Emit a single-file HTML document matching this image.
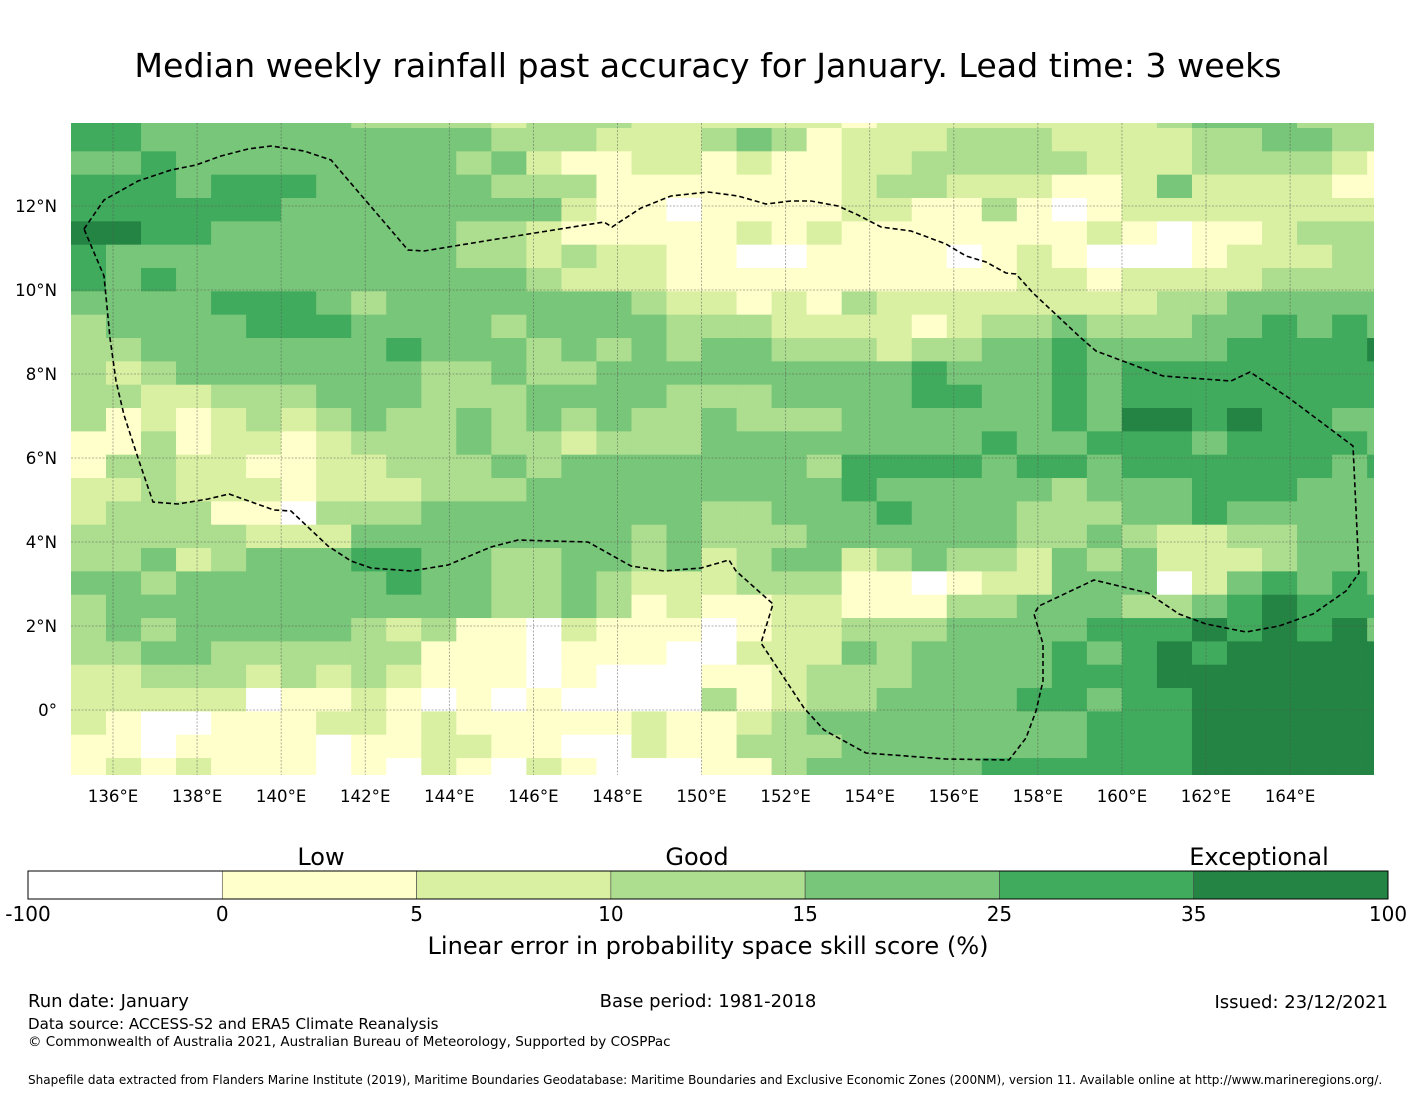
<!DOCTYPE html>
<html><head><meta charset="utf-8">
<style>
body{margin:0;background:#fff;width:1416px;height:1095px;overflow:hidden;font-family:"Liberation Sans","DejaVu Sans",sans-serif;}
svg text{font-family:"DejaVu Sans","Liberation Sans",sans-serif;}
</style></head>
<body>
<svg id="chart" width="1416" height="1095" viewBox="0 0 1416 1095" xmlns="http://www.w3.org/2000/svg">
<text x="708" y="77" font-size="33.2" text-anchor="middle">Median weekly rainfall past accuracy for January. Lead time: 3 weeks</text>
<defs><clipPath id="mapclip"><rect x="71" y="123" width="1303" height="652"/></clipPath></defs>
<g id="map" clip-path="url(#mapclip)"></g>
<g id="grid" clip-path="url(#mapclip)"></g>
<path id="eez" fill="none" stroke="#000" stroke-width="1.6" stroke-dasharray="5,3" clip-path="url(#mapclip)"/>
<g id="xticks"></g>
<g id="yticks"></g>
<g id="cbar"></g>
<text x="321" y="865" font-size="24" text-anchor="middle">Low</text>
<text x="697" y="865" font-size="24" text-anchor="middle">Good</text>
<text x="1259" y="865" font-size="24" text-anchor="middle">Exceptional</text>
<text x="708" y="954" font-size="24.1" text-anchor="middle">Linear error in probability space skill score (%)</text>
<text x="28" y="1007" font-size="18">Run date: January</text>
<text x="708" y="1007" font-size="18" text-anchor="middle">Base period: 1981-2018</text>
<text x="1388" y="1008" font-size="18" text-anchor="end">Issued: 23/12/2021</text>
<text x="28" y="1029" font-size="15.1">Data source: ACCESS-S2 and ERA5 Climate Reanalysis</text>
<text x="28" y="1046" font-size="13.5">© Commonwealth of Australia 2021, Australian Bureau of Meteorology, Supported by COSPPac</text>
<text x="28" y="1084" font-size="12.05">Shapefile data extracted from Flanders Marine Institute (2019), Maritime Boundaries Geodatabase: Maritime Boundaries and Exclusive Economic Zones (200NM), version 11. Available online at http://www.marineregions.org/.</text>
</svg>
<script>
// category per cell (0..6), rows north->south, cols west->east
const gridRows = [
"55444444333323332222221222222223444333",
"55444444444433322234312223332222334433",
"44544444444342112212112233333222333321",
"55545554444433311111112332221124222211",
"55555544444444211011112211310122222222",
"66554444444332111112121111111210112333",
"54444444444332322110011110121000122233",
"54544444444443222111111111122122223333",
"44445554344444443221213222222223344444",
"34444555444434444333222212334333445454",
"33444444454443434344333233445444455556",
"32344444443343344444444454445455555555",
"33223334443334444333444455445455555555",
"31212323433434343343334444445466565544",
"11312212333433233344444444544555455554",
"13322112233343444444435555455455555545",
"22322212223334444444445444443444555444",
"23331103334444444433444544433344544444",
"33333222444444443433344444433432233444",
"33423444554433443423442343324342223444",
"44344444454433432223331101224440245454",
"34444444444433431211221113344433456555",
"34344444323110211101223334444555656564",
"33443333331110111002224344445456566666",
"22333232321110100011233344445556666666",
"22222011210101000031233444455455666666",
"21001112212111112112344444444555666666",
"11011110112211002113334444444555666666",
"12121110102102100011344444555555666666"
];
const categoryColors = ["#ffffff","#ffffcc","#d9f0a3","#addd8e","#78c679","#41ab5d","#238443"];
const cbarTicks = ["-100","0","5","10","15","25","35","100"];
const lonTicks = [136,138,140,142,144,146,148,150,152,154,156,158,160,162,164];
const latTicks = [12,10,8,6,4,2,0];

const NS="http://www.w3.org/2000/svg";
const xS = lon => 113 + (lon-136)*42.04;
const yS = lat => 710 - lat*42.0;
const lonWest = 135.0, dLon = 0.8333;
const latTop = (710-128)/42.0, dLat = 0.5556;

const map=document.getElementById('map');
gridRows.forEach((row,r)=>{
  for(let c=0;c<row.length;c++){
    const x0=xS(lonWest+c*dLon), x1=xS(lonWest+(c+1)*dLon);
    const yTop = r===0 ? 110 : yS(latTop-(r-1)*dLat);
    const yBot = yS(latTop-r*dLat);
    const rect=document.createElementNS(NS,'rect');
    
    
    rect.setAttribute('x',x0);rect.setAttribute('y',yTop);
    rect.setAttribute('width',x1-x0+0.6);rect.setAttribute('height',yBot-yTop+0.6);
    rect.setAttribute('fill',categoryColors[+row[c]]);
    map.appendChild(rect);
  }
});
const grid=document.getElementById('grid');
function gl(x1,y1,x2,y2){const l=document.createElementNS(NS,'line');
  
  
  l.setAttribute('x1',x1);l.setAttribute('y1',y1);l.setAttribute('x2',x2);l.setAttribute('y2',y2);
  l.setAttribute('stroke','#555');l.setAttribute('stroke-width','0.8');l.setAttribute('stroke-dasharray','2,1.5');l.setAttribute('opacity','0.6');grid.appendChild(l);}
const xt=document.getElementById('xticks');
lonTicks.forEach(v=>{const x=xS(v);gl(x,123,x,775);
  const t=document.createElementNS(NS,'text');
  
  
  t.setAttribute('x',x);t.setAttribute('y',802);t.setAttribute('font-size','16.6');t.setAttribute('text-anchor','middle');
  t.textContent=v+'°E';xt.appendChild(t);});
const yt=document.getElementById('yticks');
latTicks.forEach(v=>{const y=yS(v);gl(71,y,1374,y);
  const t=document.createElementNS(NS,'text');
  
  
  t.setAttribute('x',57);t.setAttribute('y',y+6);t.setAttribute('font-size','16.6');t.setAttribute('text-anchor','end');
  t.textContent=v===0?'0°':v+'°N';yt.appendChild(t);});

const eezPts=[[84,229],[104,200],[138,181],[171,170],[196,165],[221,156],[248,149],[271,146],[304,151],[331,160],[408,250],[424,251],[491,240],[604,222],[612,227],[641,208],[671,196],[708,192],[738,196],[766,204],[791,201],[811,201],[838,206],[858,215],[881,227],[911,231],[946,244],[966,256],[986,262],[1006,273],[1016,274],[1033,293],[1081,338],[1096,351],[1163,376],[1231,381],[1250,372],[1289,398],[1353,446],[1359,573],[1346,591],[1313,614],[1279,626],[1246,632],[1206,624],[1179,614],[1148,593],[1094,580],[1039,606],[1034,614],[1043,644],[1043,681],[1036,711],[1026,738],[1009,760],[946,759],[866,753],[824,730],[804,708],[761,643],[773,604],[736,571],[729,560],[701,568],[664,571],[631,566],[588,542],[551,541],[518,540],[491,547],[448,565],[411,571],[371,568],[351,561],[328,546],[291,511],[274,510],[229,494],[208,499],[178,504],[153,502],[138,458],[124,415],[116,381],[110,338],[104,276],[84,229]];
document.getElementById('eez').setAttribute('d','M'+eezPts.map(p=>p.join(',')).join('L'));

const cb=document.getElementById('cbar');
const segW=(1388-28)/7;
for(let i=0;i<7;i++){const r=document.createElementNS(NS,'rect');
  
  
  r.setAttribute('x',28+i*segW);r.setAttribute('y',871);r.setAttribute('width',segW);r.setAttribute('height',28);
  r.setAttribute('fill',categoryColors[i]);r.setAttribute('stroke','#444');r.setAttribute('stroke-width','0.6');cb.appendChild(r);}
const fr=document.createElementNS(NS,'rect');


fr.setAttribute('x',28);fr.setAttribute('y',871);fr.setAttribute('width',1360);fr.setAttribute('height',28);fr.setAttribute('fill','none');fr.setAttribute('stroke','#000');fr.setAttribute('stroke-width','1');cb.appendChild(fr);
cbarTicks.forEach((s,i)=>{const t=document.createElementNS(NS,'text');
  
  
  t.setAttribute('x',28+i*segW);t.setAttribute('y',921);t.setAttribute('font-size','20');t.setAttribute('text-anchor','middle');
  t.textContent=s;cb.appendChild(t);});
</script>
</body></html>
